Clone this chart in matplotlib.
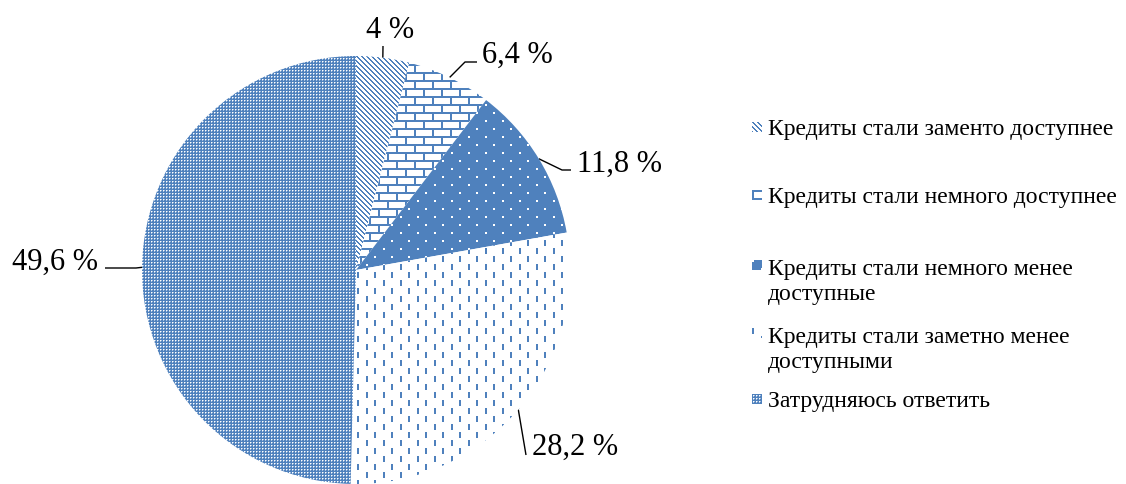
import numpy as np
import matplotlib
matplotlib.use('Agg')
import matplotlib.pyplot as plt

plt.rcParams['font.family'] = ['Liberation Serif', 'DejaVu Serif']

# data
labels = ['Кредиты стали заменто доступнее',
          'Кредиты стали немного доступнее',
          'Кредиты стали немного менее\nдоступные',
          'Кредиты стали заметно менее\nдоступными',
          'Затрудняюсь ответить']
shares = [4.0, 6.4, 11.8, 28.2, 49.6]
share_text = ['4 %', '6,4 %', '11,8 %', '28,2 %', '49,6 %']

W, H = 1126, 484
BLUE = np.array([79, 129, 189], dtype=float)
WHITE = np.array([255, 255, 255], dtype=float)

# layout (pixels, y from top)
pie_center = (356, 270)
pie_radius = 214
label_pos = [(366, 38), (482, 63), (577, 172), (532, 455), (12, 270)]
leader_tail = [[(383, 46)],
               [(465, 62), (477, 62)],
               [(562, 170), (571, 170)],
               [(526, 455)],
               [(136, 268), (105, 268)]]
legend_x = 768
legend_first = [135, 203, 273, 341, 407]   # baseline of first line
legend_step = 27                           # line pitch inside an entry


###########################
## textures (Office-like) ##
###########################

def texture(k, h, w):
    r, c = np.mgrid[0:h, 0:w]
    light = np.zeros((h, w))           # 0 = blue, 1 = white
    if k == 0:    # diagonal stripes
        light[((c - r) % 5) >= 2] = 1
    elif k == 1:  # bricks
        row = r // 8
        cc = (c + (row % 2) * 9) % 18
        light[~(((r % 8) < 2) | (cc < 2))] = 1
    elif k == 2:  # blue with white dots
        dots = (((r % 16) < 2) & ((c % 17) < 2)) | ((((r + 8) % 16) < 2) & (((c + 8) % 17) < 2))
        light[dots] = 1
    elif k == 3:  # white with vertical dashes
        dash = (((c % 17) < 2) & ((r % 16) < 6)) | ((((c + 8) % 17) < 2) & (((r + 8) % 16) < 6))
        light[~dash] = 1
    else:         # blue with fine white grid
        light[((r % 3) == 1) & ((c % 3) == 1)] = 1
        light[((r % 3) == 1) & ((c % 3) == 2)] = 0.5
        light[((r % 3) == 2) & ((c % 3) == 1)] = 0.5
    img = BLUE + (WHITE - BLUE) * light[..., None]
    return img.round().astype(np.uint8)


fig = plt.figure(figsize=(W / 100, H / 100), dpi=100)
ax = fig.add_axes([0, 0, 1, 1])

cx, cy = pie_center[0], H - pie_center[1]
wedges, _ = ax.pie(shares, startangle=90, counterclock=False,
                   center=(cx, cy), radius=pie_radius, frame=True,
                   wedgeprops=dict(facecolor='none', edgecolor='none', linewidth=0))
ax.set_xlim(0, W)
ax.set_ylim(0, H)
ax.set_aspect('auto')
ax.axis('off')

for k, w in enumerate(wedges):
    im = fig.figimage(texture(k, H, W), xo=0, yo=0, origin='upper', zorder=1)
    im.set_clip_path(w)

    # leader line from the middle of the arc
    mid = np.deg2rad((w.theta1 + w.theta2) / 2)
    x0 = w.center[0] + w.r * np.cos(mid)
    y0 = w.center[1] + w.r * np.sin(mid)
    xs = [x0] + [p[0] for p in leader_tail[k]]
    ys = [y0] + [H - p[1] for p in leader_tail[k]]
    ax.plot(xs, ys, color='black', lw=1.0, solid_capstyle='butt', zorder=3)

    lx, ly = label_pos[k]
    ax.text(lx, H - ly, share_text[k], fontsize=22, ha='left', va='baseline', zorder=4)

# legend
for k, lab in enumerate(labels):
    base = legend_first[k]
    fig.figimage(texture(k, 10, 10), xo=752, yo=H - base + 3, origin='upper', zorder=2)
    n_extra = lab.count('\n')
    ax.text(legend_x, H - base - legend_step * n_extra, lab, fontsize=17,
            ha='left', va='baseline', linespacing=1.25)

plt.savefig('out.png', dpi=100, facecolor='white')
